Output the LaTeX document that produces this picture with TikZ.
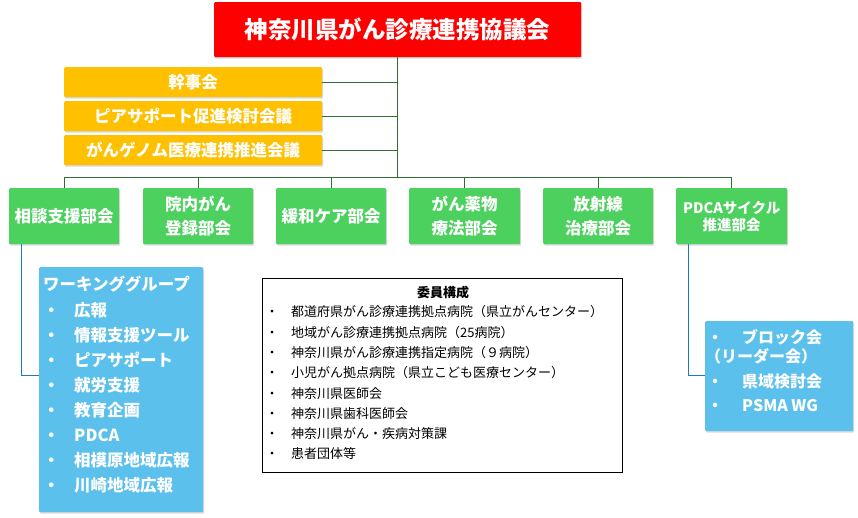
\documentclass[tikz,border=0pt]{standalone}
\usepackage{fontspec}
\setmainfont{Noto Sans CJK JP}
\usetikzlibrary{shadows}
\definecolor{tred}{RGB}{255,0,0}
\definecolor{torange}{RGB}{255,192,0}
\definecolor{tgreen}{RGB}{76,208,94}
\definecolor{tblue}{RGB}{91,192,235}
\definecolor{lgreen}{RGB}{46,112,52}
\definecolor{lblue}{RGB}{30,122,190}
\tikzset{
  box/.style={anchor=north west, inner sep=0pt, rounded corners=1pt,
    drop shadow={opacity=0.3, shadow xshift=1pt, shadow yshift=-1.5pt}},
  redbox/.style={box, fill=tred, text=white, minimum width=367pt, minimum height=55pt,
    font=\bfseries\fontsize{23.5}{24}\selectfont},
  orangebox/.style={box, fill=torange, text=white, minimum width=258pt, minimum height=30pt,
    font=\bfseries\fontsize{16.5}{18}\selectfont},
  greenbox/.style={box, fill=tgreen, text=white, minimum height=56pt, align=center,
    font=\bfseries\fontsize{16.5}{24}\selectfont},
  bluebox/.style={box, fill=tblue},
  listbox/.style={anchor=north west, draw=black, line width=0.9pt, fill=white, inner sep=0pt},
  gline/.style={draw=lgreen, line width=1pt},
  bline/.style={draw=lblue, line width=1pt},
  wtext/.style={anchor=west, inner sep=0pt, text=white, text height=0.88em, text depth=0.12em,
    font=\bfseries\fontsize{16.5}{18}\selectfont},
  ktext/.style={anchor=west, inner sep=0pt, text=black, text height=0.88em, text depth=0.12em,
    font=\fontsize{13}{15}\selectfont},
}
\begin{document}
\begin{tikzpicture}[x=1pt,y=-1pt]
\useasboundingbox (0,0) rectangle (858,517);

% top
\node[redbox] (top) at (214,2) {神奈川県がん診療連携協議会};

% orange committees
\node[orangebox] (o1) at (64,67) {幹事会};
\node[orangebox] (o2) at (64,101) {ピアサポート促進検討会議};
\node[orangebox] (o3) at (64,135) {がんゲノム医療連携推進会議};

% green sections
\node[greenbox, minimum width=110pt] (g1) at (9,188) {相談支援部会};
\node[greenbox, minimum width=110pt] (g2) at (143,188) {院内がん\\登録部会};
\node[greenbox, minimum width=110pt] (g3) at (276,188) {緩和ケア部会};
\node[greenbox, minimum width=111pt] (g4) at (409,188) {がん薬物\\療法部会};
\node[greenbox, minimum width=110pt] (g5) at (543,188) {放射線\\治療部会};
\node[greenbox, minimum width=111pt, font=\bfseries\fontsize{14.5}{17}\selectfont] (g6) at (676,188) {PDCAサイクル\\推進部会};

% connectors
\coordinate (bus) at (top.south |- 0,177);
\draw[gline] (top.south) -- (bus);
\foreach \o in {o1,o2,o3} \draw[gline] (\o.east) -- (\o.east -| top.south);
\draw[gline] (g1.north |- bus) -- (g6.north |- bus);
\foreach \g in {g1,g2,g3,g4,g5,g6} \draw[gline] (\g.north |- bus) -- (\g.north);

% working group box
\node[bluebox, minimum width=164pt, minimum height=245pt] (wg) at (39,267) {};
\draw[bline] ([xshift=12pt]g1.south west) |- ([yshift=14.5pt]wg.west);
\node[wtext] (wgt) at (43,287) {ワーキンググループ};
\foreach \t [count=\i] in {広報,情報支援ツール,ピアサポート,就労支援,教育企画,PDCA,相模原地域広報,川崎地域広報}{
  \node[wtext] (wgb\i) at (43,288+25*\i) {・};
  \node[wtext] (wgi\i) at (74,288+25*\i) {\t};
}

% members box
\node[listbox, minimum width=360pt, minimum height=194pt] (mem) at (262,278) {};
\node[ktext, anchor=center, font=\bfseries\fontsize{13}{15}\selectfont] (memt) at (443,294) {委員構成};
\foreach \t [count=\i] in {都道府県がん診療連携拠点病院（県立がんセンター）,地域がん診療連携拠点病院（25病院）,神奈川県がん診療連携指定病院（９病院）,小児がん拠点病院（県立こども医療センター）,神奈川県医師会,神奈川県歯科医師会,神奈川県がん・疾病対策課,患者団体等}{
  \node[ktext] (memb\i) at (265.5,292.7+20.3*\i) {・};
  \node[ktext] (memi\i) at (291,292.7+20.3*\i) {\t};
}

% PDCA sub box
\node[bluebox, minimum width=148pt, minimum height=110pt] (rb) at (705,321) {};
\draw[bline] ([xshift=12pt]g6.south west) |- ([yshift=1pt]rb.west);
\node[wtext, font=\bfseries\fontsize{16}{18}\selectfont] (rbb1) at (707,340) {・};
\node[wtext, font=\bfseries\fontsize{16}{18}\selectfont] (rbi1) at (742,340) {ブロック会};
\node[wtext, font=\bfseries\fontsize{16}{18}\selectfont] (rbi1b) at (705,359) {（リーダー会）};
\node[wtext, font=\bfseries\fontsize{16}{18}\selectfont] (rbb2) at (707,384) {・};
\node[wtext, font=\bfseries\fontsize{16}{18}\selectfont] (rbi2) at (742,384) {県域検討会};
\node[wtext, font=\bfseries\fontsize{16}{18}\selectfont] (rbb3) at (707,408) {・};
\node[wtext, font=\bfseries\fontsize{16}{18}\selectfont] (rbi3) at (742,408) {PSMA WG};
\end{tikzpicture}
\end{document}
